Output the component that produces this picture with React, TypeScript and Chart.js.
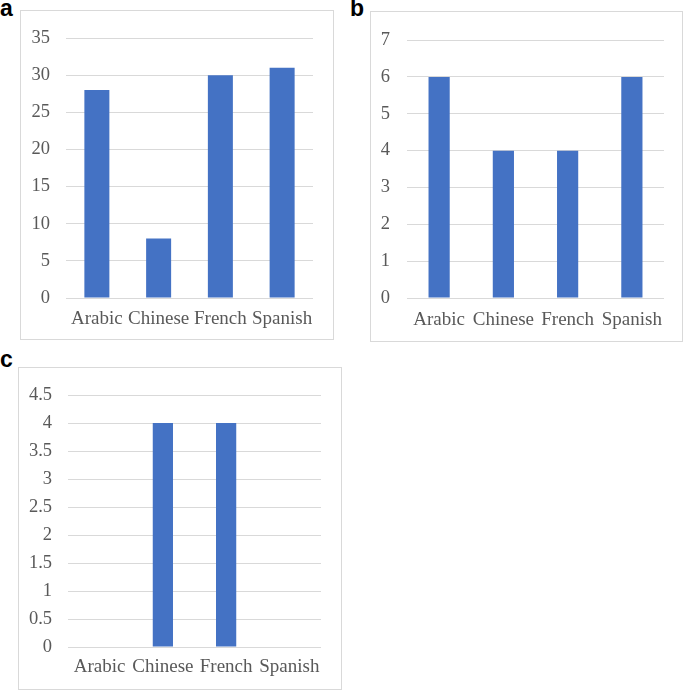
import React, { useEffect, useRef } from "react";
import { Chart, registerables } from "chart.js";

Chart.register(...registerables);

const categories = ["Arabic", "Chinese", "French", "Spanish"];
const valuesA = [28, 8, 30, 31];
const valuesB = [6, 4, 4, 6];
const valuesC = [0, 4, 4, 0];

const ticksA = { max: 35, step: 5 };
const ticksB = { max: 7, step: 1 };
const ticksC = { max: 4.5, step: 0.5 };

const BAR = "#4472C4";
const GRID = "#d9d9d9";
const TEXT = "#595959";
const SERIF = "'Liberation Serif', 'Times New Roman', serif";

type PanelProps = {
  letter: string;
  letterLeft: number;
  letterTop: number;
  left: number;
  top: number;
  width: number;
  height: number;
  values: number[];
  yMax: number;
  yStep: number;
  barPct: number;
  padTop: number;
  padRight: number;
  yAxisWidth: number;
  xAxisHeight: number;
  yTickPad: number;
  xTickPad: number;
};

function Panel(p: PanelProps) {
  const ref = useRef<HTMLCanvasElement | null>(null);
  useEffect(() => {
    if (!ref.current) return;
    const chart = new Chart(ref.current, {
      type: "bar",
      data: {
        labels: categories,
        datasets: [
          {
            data: p.values,
            backgroundColor: BAR,
            borderWidth: 0,
            barPercentage: p.barPct,
            categoryPercentage: 1,
          },
        ],
      },
      options: {
        animation: false,
        responsive: false,
        maintainAspectRatio: false,
        layout: { padding: { top: p.padTop, right: p.padRight, left: 0, bottom: 0 } },
        plugins: { legend: { display: false }, tooltip: { enabled: false } },
        scales: {
          x: {
            grid: { display: false, drawTicks: false },
            border: { display: false },
            ticks: {
              color: TEXT,
              font: { family: SERIF, size: 19 },
              padding: p.xTickPad,
              maxRotation: 0,
              autoSkip: false,
            },
            afterFit: (s: any) => {
              s.height = p.xAxisHeight;
            },
          },
          y: {
            min: 0,
            max: p.yMax,
            grid: { color: GRID, lineWidth: 1, drawTicks: false },
            border: { display: false },
            ticks: {
              stepSize: p.yStep,
              color: TEXT,
              font: { family: SERIF, size: 18.5 },
              padding: p.yTickPad,
              callback: (v: any) => String(Math.round(Number(v) * 10) / 10),
            },
            afterFit: (s: any) => {
              s.width = p.yAxisWidth;
            },
          },
        },
      },
    });
    return () => chart.destroy();
  }, []);
  return (
    <>
      <div
        style={{
          position: "absolute",
          left: p.letterLeft,
          top: p.letterTop,
          fontFamily: "'Liberation Sans', Arial, sans-serif",
          fontWeight: "bold",
          fontSize: 23,
          lineHeight: "23px",
          color: "#000",
        }}
      >
        {p.letter}
      </div>
      <div
        style={{
          position: "absolute",
          left: p.left,
          top: p.top,
          width: p.width,
          height: p.height,
          border: `1px solid ${GRID}`,
          boxSizing: "border-box",
          background: "#fff",
        }}
      >
        <canvas
          ref={ref}
          width={p.width - 2}
          height={p.height - 2}
          style={{ display: "block", width: p.width - 2, height: p.height - 2 }}
        />
      </div>
    </>
  );
}

export default function App() {
  return (
    <div
      style={{
        position: "absolute",
        left: 0,
        top: 0,
        width: 685,
        height: 691,
        background: "#fff",
        overflow: "hidden",
      }}
    >
      <Panel
        letter="a"
        letterLeft={0}
        letterTop={-3}
        left={20}
        top={10}
        width={314}
        height={330}
        values={valuesA}
        yMax={ticksA.max}
        yStep={ticksA.step}
        barPct={0.405}
        padTop={19}
        padRight={20}
        yAxisWidth={45}
        xAxisHeight={41}
        yTickPad={16}
        xTickPad={10}
      />
      <Panel
        letter="b"
        letterLeft={350}
        letterTop={-3}
        left={370}
        top={11}
        width={313}
        height={331}
        values={valuesB}
        yMax={ticksB.max}
        yStep={ticksB.step}
        barPct={0.33}
        padTop={20}
        padRight={18}
        yAxisWidth={36}
        xAxisHeight={43}
        yTickPad={17}
        xTickPad={11}
      />
      <Panel
        letter="c"
        letterLeft={0}
        letterTop={348}
        left={18}
        top={367}
        width={324}
        height={323}
        values={valuesC}
        yMax={ticksC.max}
        yStep={ticksC.step}
        barPct={0.32}
        padTop={19}
        padRight={20}
        yAxisWidth={49}
        xAxisHeight={42}
        yTickPad={16}
        xTickPad={9}
      />
    </div>
  );
}
